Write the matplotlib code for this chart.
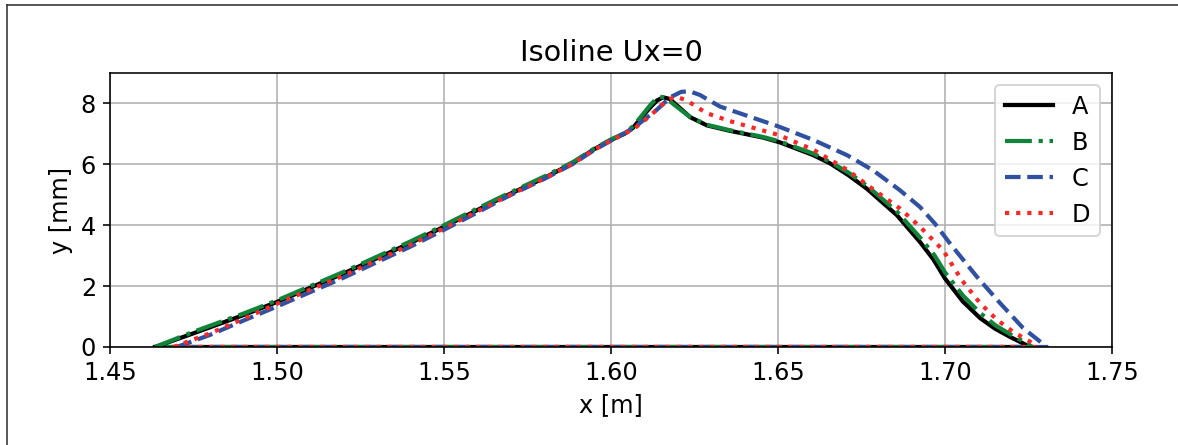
import matplotlib
matplotlib.use("Agg")
import matplotlib.pyplot as plt
from matplotlib.lines import Line2D

plt.rcParams["font.size"] = 12

# Isoline Ux=0 for four cases (upper branch, x in m, y in mm)
x_a = [1.4635, 1.475, 1.49, 1.50, 1.52, 1.54, 1.55, 1.56, 1.5688, 1.58, 1.5887,
       1.5947, 1.60, 1.6040, 1.6066, 1.6096, 1.6120, 1.6138, 1.6156, 1.6175,
       1.6198, 1.6237, 1.6287, 1.6356, 1.6455, 1.6506, 1.6606, 1.6656, 1.6710,
       1.6766, 1.6856, 1.6925, 1.6965, 1.70, 1.7053, 1.7105, 1.7150, 1.7195,
       1.7230, 1.7254]
y_a = [0.0, 0.45, 1.05, 1.48, 2.42, 3.42, 3.95, 4.5, 4.98, 5.55, 6.05,
       6.48, 6.8, 7.0, 7.2, 7.6, 7.9, 8.1, 8.2, 8.15,
       7.93, 7.55, 7.28, 7.1, 6.88, 6.72, 6.3, 6.03, 5.65,
       5.2, 4.33, 3.45, 2.88, 2.25, 1.5, 0.95, 0.6, 0.33,
       0.14, 0.0]

x_b = [1.4635, 1.475, 1.49, 1.50, 1.52, 1.54, 1.55, 1.56, 1.5688, 1.58, 1.5887,
       1.5947, 1.60, 1.6040, 1.6066, 1.6096, 1.6118, 1.6135, 1.6147, 1.6165,
       1.6190, 1.6237, 1.6287, 1.6356, 1.6455, 1.6506, 1.6606, 1.6656, 1.6712,
       1.6766, 1.6856, 1.6925, 1.6968, 1.70, 1.7053, 1.7105, 1.7150, 1.7195,
       1.7235, 1.7262]
y_b = [0.0, 0.5, 1.1, 1.53, 2.47, 3.47, 4.0, 4.55, 5.02, 5.6, 6.08,
       6.5, 6.82, 7.02, 7.25, 7.65, 7.95, 8.15, 8.22, 8.18,
       7.95, 7.55, 7.3, 7.12, 6.9, 6.75, 6.35, 6.08, 5.72,
       5.3, 4.45, 3.6, 3.02, 2.45, 1.7, 1.12, 0.72, 0.42,
       0.18, 0.0]

x_c = [1.4700, 1.48, 1.49, 1.50, 1.52, 1.54, 1.55, 1.56, 1.5688, 1.58, 1.5887,
       1.5947, 1.60, 1.6066, 1.6096, 1.6138, 1.6177, 1.6210, 1.6235, 1.6266,
       1.6326, 1.6406, 1.65, 1.6606, 1.6707, 1.6785, 1.6865, 1.6925, 1.6970,
       1.7015, 1.7096, 1.7165, 1.7234, 1.7280, 1.7305]
y_c = [0.0, 0.4, 0.87, 1.33, 2.28, 3.3, 3.85, 4.42, 4.93, 5.52, 6.02,
       6.45, 6.78, 7.18, 7.44, 7.8, 8.2, 8.38, 8.4, 8.28,
       7.9, 7.6, 7.25, 6.8, 6.3, 5.8, 5.15, 4.6, 4.05,
       3.4, 2.3, 1.44, 0.62, 0.22, 0.0]

x_d = [1.4690, 1.48, 1.49, 1.50, 1.52, 1.54, 1.55, 1.56, 1.5688, 1.58, 1.5887,
       1.5947, 1.60, 1.6066, 1.6096, 1.6138, 1.6170, 1.6195, 1.6227, 1.6257,
       1.6287, 1.6356, 1.6426, 1.65, 1.6606, 1.6707, 1.6785, 1.6865, 1.6925,
       1.6994, 1.7050, 1.7105, 1.7156, 1.7204, 1.7260, 1.7275]
y_d = [0.0, 0.45, 0.93, 1.42, 2.35, 3.36, 3.9, 4.46, 4.95, 5.53, 6.03,
       6.46, 6.78, 7.15, 7.4, 7.8, 8.12, 8.22, 8.1, 7.88,
       7.68, 7.42, 7.2, 6.97, 6.48, 5.82, 5.18, 4.55, 3.95,
       3.18, 2.2, 1.44, 0.89, 0.5, 0.14, 0.0]

labels = ["A", "B", "C", "D"]
colors = ["black", "#12843a", "#3050a0", "#f42a2a"]
styles = ["-", "-.", "--", ":"]
x_ticks = [1.45, 1.50, 1.55, 1.60, 1.65, 1.70, 1.75]
y_ticks = [0, 2, 4, 6, 8]

fig = plt.figure(figsize=(1178 / 144, 445 / 144), dpi=144)
ax = fig.add_axes([110 / 1178, 98 / 445, 1002 / 1178, 274 / 445])

for xs, ys, lab, col, ls in zip([x_a, x_b, x_c, x_d], [y_a, y_b, y_c, y_d],
                                labels, colors, styles):
    # each isoline is closed along the wall (y = 0)
    ax.plot(xs + [xs[0]], ys + [ys[0]], color=col, linestyle=ls, lw=2.1,
            label=lab)

ax.set_xlim(1.45, 1.75)
ax.set_ylim(0, 9)
ax.set_xticks(x_ticks)
ax.set_yticks(y_ticks)
ax.set_xlabel("x [m]")
ax.set_ylabel("y [mm]")
ax.set_title("Isoline Ux=0")
ax.grid(True)
ax.legend(loc="upper right")

# outer frame lines
fig.add_artist(Line2D([7 / 1178, 7 / 1178], [0, 1 - 5 / 445],
                      transform=fig.transFigure, color="#333333", lw=0.8))
fig.add_artist(Line2D([7 / 1178, 1], [1 - 5 / 445, 1 - 5 / 445],
                      transform=fig.transFigure, color="#333333", lw=0.8))

fig.savefig("out.png", dpi=144)
